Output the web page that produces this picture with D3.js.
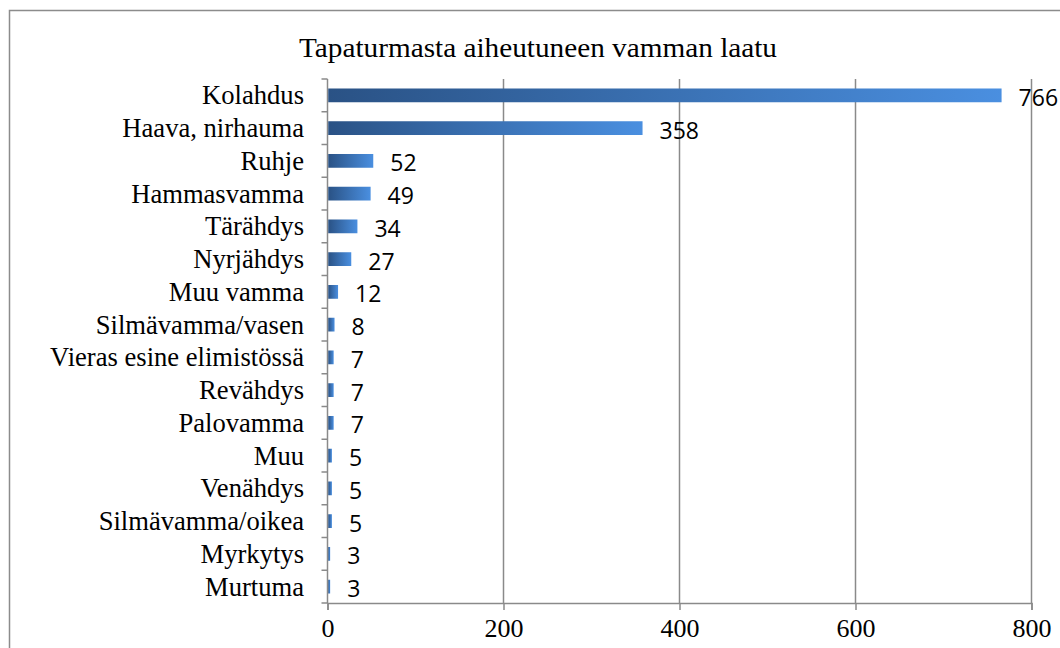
<!DOCTYPE html>
<html><head><meta charset="utf-8">
<script src="https://cdn.jsdelivr.net/npm/d3@7"></script>
<style>
html,body{margin:0;padding:0;background:#fff;}
svg{display:block;}
</style></head>
<body>
<svg id="chart" width="1060" height="648"></svg>
<script>
const title = "Tapaturmasta aiheutuneen vamman laatu";
const categories = ["Kolahdus","Haava, nirhauma","Ruhje","Hammasvamma","Tärähdys","Nyrjähdys","Muu vamma","Silmävamma/vasen","Vieras esine elimistössä","Revähdys","Palovamma","Muu","Venähdys","Silmävamma/oikea","Myrkytys","Murtuma"];
const values = [766,358,52,49,34,27,12,8,7,7,7,5,5,5,3,3];
const xTicks = [0,200,400,600,800];

(function(){
const svg = d3.select("#chart");
const gray = "#8a8a8a";
const serif = "'Liberation Serif','Times New Roman',serif";
const pLeft = 327.5, pRight = 1031.5, pTop = 79, pBottom = 603;

svg.append("rect").attr("x",9.5).attr("y",10.5).attr("width",1100).attr("height",700)
  .attr("fill","#fff").attr("stroke","#8c8c8c").attr("stroke-width",1.5);

const defs = svg.append("defs");
const grad = defs.append("linearGradient").attr("id","barGrad")
  .attr("x1","0%").attr("x2","100%").attr("y1","0%").attr("y2","0%");
grad.append("stop").attr("offset","0%").attr("stop-color","#2a5285");
grad.append("stop").attr("offset","100%").attr("stop-color","#4a8fe0");

const x = d3.scaleLinear().domain([0,800]).range([pLeft,pRight]);
const yb = d3.scaleBand().domain(categories).range([pTop,pBottom]).paddingInner(0.58).paddingOuter(0.29);
const yEdge = d3.scaleBand().domain(categories).range([pTop,pBottom]).padding(0);

// gridlines
svg.append("g").selectAll("line").data(xTicks.filter(d=>d>0)).join("line")
  .attr("x1",d=>x(d)).attr("x2",d=>x(d)).attr("y1",pTop).attr("y2",pBottom)
  .attr("stroke",gray).attr("stroke-width",1.5);

// x axis
const xAxis = svg.append("g").attr("transform",`translate(0,${pBottom})`)
  .call(d3.axisBottom(x).tickValues(xTicks).tickSize(7).tickPadding(14).tickFormat(d3.format("d")));
xAxis.select(".domain").attr("stroke",gray).attr("stroke-width",1.5);
xAxis.selectAll(".tick line").attr("stroke",gray).attr("stroke-width",1.5);
xAxis.selectAll(".tick text").attr("font-family",serif)
  .attr("font-size",26).attr("fill","#000").attr("dy","0.5em");

// y axis
const yAxis = svg.append("g").attr("transform",`translate(${pLeft},0)`);
yAxis.append("line").attr("x1",0).attr("x2",0).attr("y1",pTop).attr("y2",pBottom)
  .attr("stroke",gray).attr("stroke-width",1.5);
const edges = categories.map(c=>yEdge(c)).concat([pBottom]);
yAxis.selectAll("line.t").data(edges).join("line").attr("class","t")
  .attr("x1",-6).attr("x2",0).attr("y1",d=>d).attr("y2",d=>d)
  .attr("stroke",gray).attr("stroke-width",1.5);
yAxis.selectAll("text").data(categories).join("text")
  .attr("x",-23.5).attr("y",d=>yb(d)+yb.bandwidth()/2+9)
  .attr("text-anchor","end").attr("font-family",serif)
  .attr("font-size",26.6).attr("fill","#000").text(d=>d);

// bars
const data = categories.map((c,i)=>({c,v:values[i]}));
svg.append("g").selectAll("rect").data(data).join("rect")
  .attr("x",x(0)+0.75).attr("y",d=>yb(d.c)).attr("height",yb.bandwidth())
  .attr("width",d=>Math.max(0,x(d.v)-x(0)-0.75)).attr("fill","url(#barGrad)");

// value labels
svg.append("g").selectAll("text").data(data).join("text")
  .attr("x",d=>x(d.v)+17).attr("y",d=>yb(d.c)+yb.bandwidth()/2+10.5)
  .attr("font-family","'Open Sans',sans-serif").attr("font-size",23).attr("fill","#000")
  .text(d=>d.v);

// title
svg.append("text").attr("x",299).attr("y",57).attr("text-anchor","start")
  .attr("font-family",serif).attr("font-size",27)
  .attr("textLength",478).attr("lengthAdjust","spacingAndGlyphs")
  .attr("fill","#000").text(title);
})();
</script>
</body></html>
